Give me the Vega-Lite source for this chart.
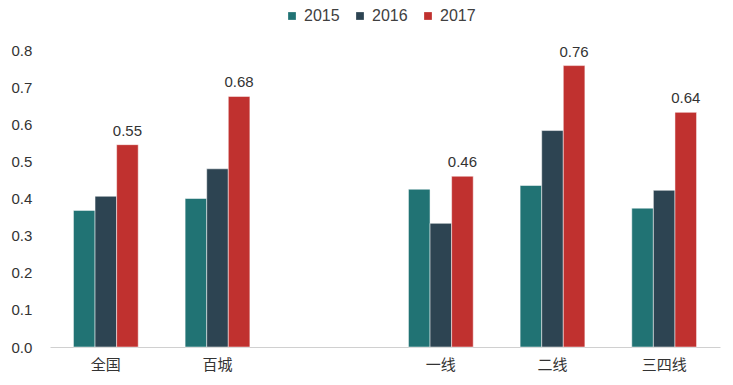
{
  "$schema": "https://vega.github.io/schema/vega-lite/v6.json",
  "autosize": {"type": "none"},
  "width": 670,
  "height": 297,
  "padding": {"left": 50, "top": 50, "right": 13, "bottom": 38},
  "background": "white",
  "config": {
    "view": {"stroke": null},
    "font": "Liberation Sans",
    "axis": {"labelFont": "Liberation Sans", "labelColor": "#333333", "labelFontSize": 15, "grid": false, "ticks": false, "title": null}
  },
  "data": {
    "values": [
      {"region": "全国", "year": "2015", "value": 0.368},
      {"region": "全国", "year": "2016", "value": 0.406},
      {"region": "全国", "year": "2017", "value": 0.545, "label": "0.55"},
      {"region": "百城", "year": "2015", "value": 0.40},
      {"region": "百城", "year": "2016", "value": 0.48},
      {"region": "百城", "year": "2017", "value": 0.675, "label": "0.68"},
      {"region": " ", "year": "2015", "value": null},
      {"region": "一线", "year": "2015", "value": 0.425},
      {"region": "一线", "year": "2016", "value": 0.333},
      {"region": "一线", "year": "2017", "value": 0.46, "label": "0.46"},
      {"region": "二线", "year": "2015", "value": 0.435},
      {"region": "二线", "year": "2016", "value": 0.583},
      {"region": "二线", "year": "2017", "value": 0.758, "label": "0.76"},
      {"region": "三四线", "year": "2015", "value": 0.374},
      {"region": "三四线", "year": "2016", "value": 0.422},
      {"region": "三四线", "year": "2017", "value": 0.632, "label": "0.64"}
    ]
  },
  "encoding": {
    "x": {
      "field": "region", "type": "nominal",
      "sort": ["全国", "百城", " ", "一线", "二线", "三四线"],
      "scale": {"paddingInner": 0.42, "paddingOuter": 0.21},
      "axis": {"labelAngle": 0, "domainColor": "#d0d0d0", "labelPadding": 10, "labelFont": "Noto Sans CJK SC", "labelFontSize": 15}
    },
    "xOffset": {"field": "year", "type": "nominal", "scale": {"paddingInner": 0}},
    "y": {
      "field": "value", "type": "quantitative",
      "scale": {"domain": [0, 0.8]},
      "axis": {"values": [0, 0.1, 0.2, 0.3, 0.4, 0.5, 0.6, 0.7, 0.8], "format": ".1f", "domain": false, "labelPadding": 39, "labelAlign": "left"}
    }
  },
  "layer": [
    {
      "mark": {"type": "bar", "stroke": "white", "strokeWidth": 0.5},
      "encoding": {
        "color": {
          "field": "year", "type": "nominal",
          "scale": {"domain": ["2015", "2016", "2017"], "range": ["#217374", "#2d4452", "#c0312f"]},
          "legend": {
            "title": null, "orient": "none", "direction": "horizontal",
            "legendX": 234, "legendY": -42,
            "symbolType": "square", "symbolSize": 60, "symbolStrokeWidth": 0,
            "labelFontSize": 16, "labelColor": "#404040", "labelFont": "Liberation Sans",
            "columnPadding": 12, "labelOffset": 4
          }
        }
      }
    },
    {
      "transform": [{"filter": "isValid(datum.label)"}],
      "mark": {"type": "text", "dy": -14, "fontSize": 15, "color": "#333333", "font": "Liberation Sans"},
      "encoding": {"text": {"field": "label"}}
    }
  ]
}
